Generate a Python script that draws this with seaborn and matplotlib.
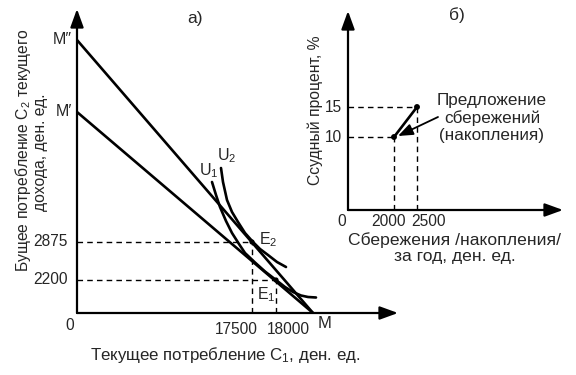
import matplotlib
matplotlib.use("Agg")
import matplotlib.pyplot as plt
import seaborn as sns

sns.set_style("white")
plt.rcParams['font.family'] = ['Liberation Sans', 'DejaVu Sans']
plt.rcParams['mathtext.fontset'] = 'custom'
plt.rcParams['mathtext.rm'] = 'Liberation Sans'
plt.rcParams['mathtext.it'] = 'Liberation Sans:italic'

# ---------------- Panel a) (schematic positions) ----------------
budget_x = [0, 236]
budget_hi_y = [273, 0]     # M'' -> M
budget_lo_y = [201, 0]     # M'  -> M
u1_x = [135, 139, 143, 149, 155, 162, 168, 178, 188, 199, 208, 216, 224, 231, 239]
u1_y = [131, 118, 106, 92, 80, 69, 60, 50.5, 41.5, 33, 26, 21, 17.5, 16, 15.5]
u2_x = [144, 146, 150, 155, 161, 168, 176, 183, 191, 200, 209]
u2_y = [145, 131, 113, 101, 91, 80, 71, 64, 58, 51, 46]
eq_names = [r"E$_\mathregular{2}$", r"E$_\mathregular{1}$"]
eq_x = [175, 199]
eq_y = [71, 33]
c1_labels = ["17500", "18000"]
c2_labels = ["2875", "2200"]

# ---------------- Panel b) ----------------
supply_x = [46, 69]
supply_y = [73, 103]
sav_labels = ["2000", "2500"]
rate_labels = ["10", "15"]

W, H = 576, 375
fig = plt.figure(figsize=(W / 100, H / 100), dpi=100)

def make_axes(ox, oy, right, top):
    ax = fig.add_axes([ox / W, (H - oy) / H, (right - ox) / W, (oy - top) / H])
    ax.set_xlim(0, right - ox)
    ax.set_ylim(0, oy - top)
    for s in ax.spines.values():
        s.set_visible(False)
    ax.set_xticks([])
    ax.set_yticks([])
    ax.patch.set_alpha(0)
    return ax

LW = 1.9
FS_NUM = 11.2
FS_TXT = 11.5
dash = dict(color='black', lw=1.0, linestyle=(0, (4, 3)))
arrow_axis = dict(arrowstyle='-|>,head_length=1.1,head_width=0.4',
                  color='black', lw=1.6, shrinkA=0, shrinkB=0)

# ---------- left panel ----------
ax1 = make_axes(77, 313, 400, 5)
ax1.plot([0, 306], [0, 0], color='black', lw=1.6, clip_on=False)
ax1.plot([0, 0], [0, 290], color='black', lw=1.6, clip_on=False)
ax1.annotate("", xy=(0, 304), xytext=(0, 288), arrowprops=arrow_axis, annotation_clip=False)
ax1.annotate("", xy=(321, 0), xytext=(305, 0), arrowprops=arrow_axis, annotation_clip=False)

sns.lineplot(x=budget_x, y=budget_hi_y, ax=ax1, color='black', lw=LW, sort=False, estimator=None)
sns.lineplot(x=budget_x, y=budget_lo_y, ax=ax1, color='black', lw=LW, sort=False, estimator=None)
sns.lineplot(x=u1_x, y=u1_y, ax=ax1, color='black', lw=LW, sort=False, estimator=None)
sns.lineplot(x=u2_x, y=u2_y, ax=ax1, color='black', lw=LW, sort=False, estimator=None)

for x, y in zip(eq_x, eq_y):
    ax1.plot([0, x], [y, y], **dash)
    ax1.plot([x, x], [0, y], **dash)
sns.scatterplot(x=eq_x, y=eq_y, ax=ax1, color='black', s=14, edgecolor='none')

ax1.text(182, 73, eq_names[0], fontsize=FS_TXT, ha='left', va='center')
ax1.text(189, 18, eq_names[1], fontsize=FS_TXT, ha='center', va='center')
ax1.text(132, 142, r"U$_\mathregular{1}$", fontsize=FS_TXT, ha='center', va='center')
ax1.text(150, 157, r"U$_\mathregular{2}$", fontsize=FS_TXT, ha='center', va='center')

ax1.text(-5, budget_hi_y[0], "M\u2033", fontsize=FS_TXT, ha='right', va='center')
ax1.text(-5, budget_lo_y[0], "M\u2032", fontsize=FS_TXT, ha='right', va='center')
ax1.text(-7, -12, "0", fontsize=FS_NUM, ha='center', va='center')
ax1.text(248, -11, "M", fontsize=FS_TXT + 0.5, ha='center', va='center')
ax1.text(eq_x[0] + 6, -17, c1_labels[0], fontsize=FS_NUM, ha='right', va='center')
ax1.text(eq_x[1] - 9, -17, c1_labels[1], fontsize=FS_NUM, ha='left', va='center')
ax1.text(-9, eq_y[0], c2_labels[0], fontsize=FS_NUM, ha='right', va='center')
ax1.text(-9, eq_y[1], c2_labels[1], fontsize=FS_NUM, ha='right', va='center')
ax1.text(118, 295, "а)", fontsize=12.5, ha='center', va='center')

fig.text(23 / W, 1 - 150 / H, "Бущее потребление C$_\\mathregular{2}$ текущего",
         rotation=90, ha='center', va='center', fontsize=11.3)
fig.text(40 / W, 1 - 152 / H, "дохода, ден. ед.",
         rotation=90, ha='center', va='center', fontsize=11.3)
fig.text(225 / W, 1 - 355 / H, "Текущее потребление C$_\\mathregular{1}$, ден. ед.",
         ha='center', va='center', fontsize=12.2)

# ---------- right panel ----------
ax2 = make_axes(348, 210, 566, 5)
ax2.plot([0, 200], [0, 0], color='black', lw=1.6, clip_on=False)
ax2.plot([0, 0], [0, 184], color='black', lw=1.6, clip_on=False)
ax2.annotate("", xy=(0, 199), xytext=(0, 183), arrowprops=arrow_axis, annotation_clip=False)
ax2.annotate("", xy=(215, 0), xytext=(199, 0), arrowprops=arrow_axis, annotation_clip=False)

for x, y in zip(supply_x, supply_y):
    ax2.plot([0, x], [y, y], **dash)
    ax2.plot([x, x], [0, y], **dash)
sns.lineplot(x=supply_x, y=supply_y, ax=ax2, color='black', lw=LW, sort=False, estimator=None)
sns.scatterplot(x=supply_x, y=supply_y, ax=ax2, color='black', s=18, edgecolor='none')

ax2.annotate("", xy=(50, 74), xytext=(90, 93),
             arrowprops=dict(arrowstyle='-|>,head_length=0.9,head_width=0.35',
                             color='black', lw=1.3, shrinkA=0, shrinkB=0))
ax2.text(144, 92, "Предложение\nсбережений\n(накопления)", fontsize=12.3,
         ha='center', va='center', linespacing=1.2)

ax2.text(-6, supply_y[0], rate_labels[0], fontsize=FS_NUM, ha='right', va='center')
ax2.text(-6, supply_y[1], rate_labels[1], fontsize=FS_NUM, ha='right', va='center')
ax2.text(-6, -12, "0", fontsize=FS_NUM, ha='center', va='center')
ax2.text(supply_x[0] - 5, -12, sav_labels[0], fontsize=FS_NUM, ha='center', va='center')
ax2.text(supply_x[1] + 11, -12, sav_labels[1], fontsize=FS_NUM, ha='center', va='center')
ax2.text(109, 195, "б)", fontsize=12.5, ha='center', va='center')

fig.text(315 / W, 1 - 110 / H, "Ссудный процент, %", rotation=90,
         ha='center', va='center', fontsize=11.3)
fig.text(455 / W, 1 - 248 / H, "Сбережения /накопления/\nза год, ден. ед.",
         ha='center', va='center', fontsize=12.6, linespacing=1.05)

fig.savefig("out.png", dpi=100)
